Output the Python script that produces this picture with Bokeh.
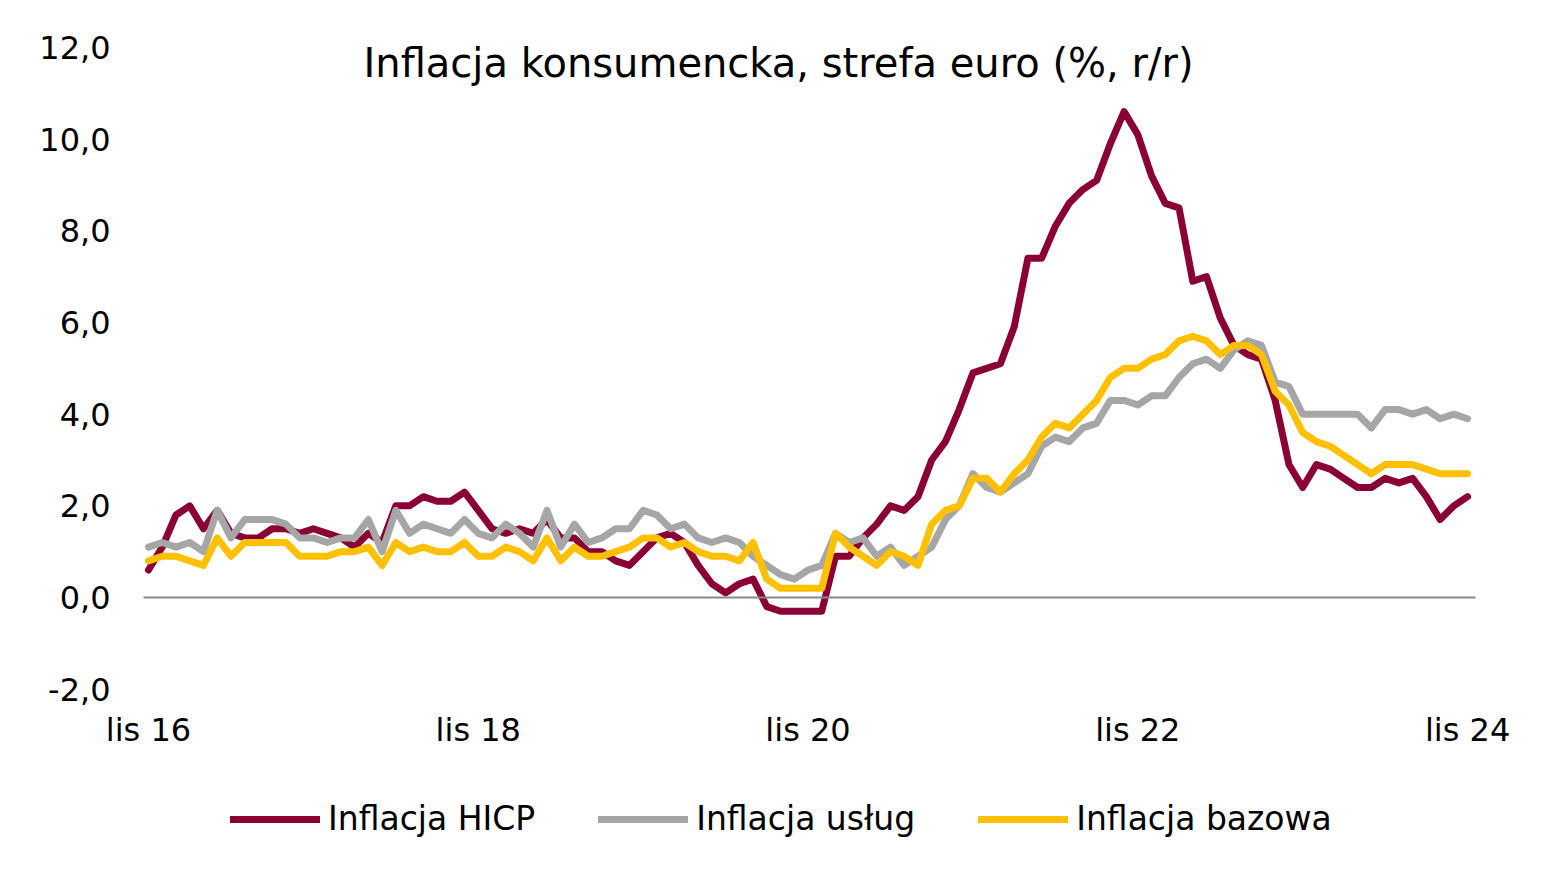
from bokeh.plotting import figure
from bokeh.models import Label, Legend, LegendItem, FixedTicker, ColumnDataSource, LinearAxis
from bokeh.embed import file_html
from bokeh.resources import INLINE

# Monthly data, Nov 2016 (index 0) .. Nov 2024 (index 96)
hicp = [0.6, 1.1, 1.8, 2.0, 1.5, 1.9, 1.4, 1.3, 1.3, 1.5,
        1.5, 1.4, 1.5, 1.4, 1.3, 1.1, 1.4, 1.2, 2.0, 2.0,
        2.2, 2.1, 2.1, 2.3, 1.9, 1.5, 1.4, 1.5, 1.4, 1.7,
        1.3, 1.3, 1.0, 1.0, 0.8, 0.7, 1.0, 1.3, 1.4, 1.2,
        0.7, 0.3, 0.1, 0.3, 0.4, -0.2, -0.3, -0.3, -0.3, -0.3,
        0.9, 0.9, 1.3, 1.6, 2.0, 1.9, 2.2, 3.0, 3.4, 4.1,
        4.9, 5.0, 5.1, 5.9, 7.4, 7.4, 8.1, 8.6, 8.9, 9.1,
        9.9, 10.6, 10.1, 9.2, 8.6, 8.5, 6.9, 7.0, 6.1, 5.5,
        5.3, 5.2, 4.3, 2.9, 2.4, 2.9, 2.8, 2.6, 2.4, 2.4,
        2.6, 2.5, 2.6, 2.2, 1.7, 2.0, 2.2]

services = [1.1, 1.2, 1.1, 1.2, 1.0, 1.9, 1.3, 1.7, 1.7, 1.7,
            1.6, 1.3, 1.3, 1.2, 1.3, 1.3, 1.7, 1.0, 1.9, 1.4,
            1.6, 1.5, 1.4, 1.7, 1.4, 1.3, 1.6, 1.4, 1.1, 1.9,
            1.1, 1.6, 1.2, 1.3, 1.5, 1.5, 1.9, 1.8, 1.5, 1.6,
            1.3, 1.2, 1.3, 1.2, 0.9, 0.7, 0.5, 0.4, 0.6, 0.7,
            1.4, 1.2, 1.3, 0.9, 1.1, 0.7, 0.9, 1.1, 1.7, 2.0,
            2.7, 2.4, 2.3, 2.5, 2.7, 3.3, 3.5, 3.4, 3.7, 3.8,
            4.3, 4.3, 4.2, 4.4, 4.4, 4.8, 5.1, 5.2, 5.0, 5.4,
            5.6, 5.5, 4.7, 4.6, 4.0, 4.0, 4.0, 4.0, 4.0, 3.7,
            4.1, 4.1, 4.0, 4.1, 3.9, 4.0, 3.9]

core = [0.8, 0.9, 0.9, 0.8, 0.7, 1.3, 0.9, 1.2, 1.2, 1.2,
        1.2, 0.9, 0.9, 0.9, 1.0, 1.0, 1.1, 0.7, 1.2, 1.0,
        1.1, 1.0, 1.0, 1.2, 0.9, 0.9, 1.1, 1.0, 0.8, 1.3,
        0.8, 1.1, 0.9, 0.9, 1.0, 1.1, 1.3, 1.3, 1.1, 1.2,
        1.0, 0.9, 0.9, 0.8, 1.2, 0.4, 0.2, 0.2, 0.2, 0.2,
        1.4, 1.1, 0.9, 0.7, 1.0, 0.9, 0.7, 1.6, 1.9, 2.0,
        2.6, 2.6, 2.3, 2.7, 3.0, 3.5, 3.8, 3.7, 4.0, 4.3,
        4.8, 5.0, 5.0, 5.2, 5.3, 5.6, 5.7, 5.6, 5.3, 5.5,
        5.5, 5.3, 4.5, 4.2, 3.6, 3.4, 3.3, 3.1, 2.9, 2.7,
        2.9, 2.9, 2.9, 2.8, 2.7, 2.7, 2.7]

months = list(range(len(hicp)))

series_names = ["Inflacja HICP", "Inflacja usług", "Inflacja bazowa"]
series_colors = ["#8B0034", "#A6A6A6", "#FFC000"]

x_ticks = [0, 24, 48, 72, 96]
x_tick_labels = ["lis 16", "lis 18", "lis 20", "lis 22", "lis 24"]
y_ticks = [-2, 0, 2, 4, 6, 8, 10, 12]
y_tick_labels = ["-2,0", "0,0", "2,0", "4,0", "6,0", "8,0", "10,0", "12,0"]

title_text = "Inflacja konsumencka, strefa euro (%, r/r)"

FONT = "DejaVu Sans"
PLOT_X0, PLOT_X1 = -0.36, 96.58   # extent of the category axis
Y_LOW = -2                         # "low" position of the category labels

# frame widened/extended so that axis labels and legend lie inside it
p = figure(width=1550, height=878, output_backend="svg", toolbar_location=None,
           x_range=(-9.316, 100.58), y_range=(-5.957, 12.8946),
           min_border_left=20, min_border_right=20,
           min_border_top=6, min_border_bottom=8)
p.outline_line_color = None
p.xgrid.grid_line_color = None
p.ygrid.grid_line_color = None
p.background_fill_color = "white"
p.border_fill_color = "white"

# axes
p.xaxis.ticker = FixedTicker(ticks=x_ticks)
p.xaxis.major_label_overrides = dict(zip(x_ticks, x_tick_labels))
p.xaxis.fixed_location = Y_LOW
p.yaxis.ticker = FixedTicker(ticks=y_ticks)
p.yaxis.major_label_overrides = dict(zip(y_ticks, y_tick_labels))
p.yaxis.fixed_location = PLOT_X0
for ax in (p.xaxis, p.yaxis):
    ax.axis_line_color = None
    ax.major_tick_line_color = None
    ax.minor_tick_line_color = None
    ax.major_tick_out = 0
    ax.minor_tick_out = 0
    ax.major_label_text_font = FONT
    ax.major_label_text_font_size = "32px"
    ax.major_label_text_color = "#000000"
p.xaxis.major_label_standoff = 22
p.yaxis.major_label_standoff = 33

# horizontal axis line crossing at 0
zero_axis = LinearAxis(fixed_location=0, bounds=(PLOT_X0, PLOT_X1),
                       axis_line_color="#898989", axis_line_width=2,
                       major_tick_line_color=None, minor_tick_line_color=None,
                       major_tick_out=0, minor_tick_out=0,
                       major_label_text_font_size="0px",
                       ticker=FixedTicker(ticks=[]))
p.add_layout(zero_axis, "below")

src = ColumnDataSource(dict(m=months, hicp=hicp, services=services, core=core))
renderers = []
for col, color in zip(["hicp", "services", "core"], series_colors):
    r = p.line("m", col, source=src, line_color=color, line_width=7,
               line_join="round", line_cap="round")
    renderers.append(r)

legend = Legend(items=[LegendItem(label=n, renderers=[r]) for n, r in zip(series_names, renderers)],
                orientation="horizontal", location=(210, 32),
                glyph_width=90, glyph_height=36, label_height=36,
                label_standoff=8, spacing=63, padding=0, margin=0,
                border_line_color=None, background_fill_alpha=0,
                label_text_font=FONT, label_text_font_size="33px",
                label_text_color="#000000")
p.add_layout(legend, "center")

p.add_layout(Label(x=45.85, y=11.67, text=title_text, text_align="center",
                   text_baseline="middle", text_font=FONT, text_font_size="40px",
                   text_color="#000000"))

open("out.html", "w").write(file_html(p, INLINE))
